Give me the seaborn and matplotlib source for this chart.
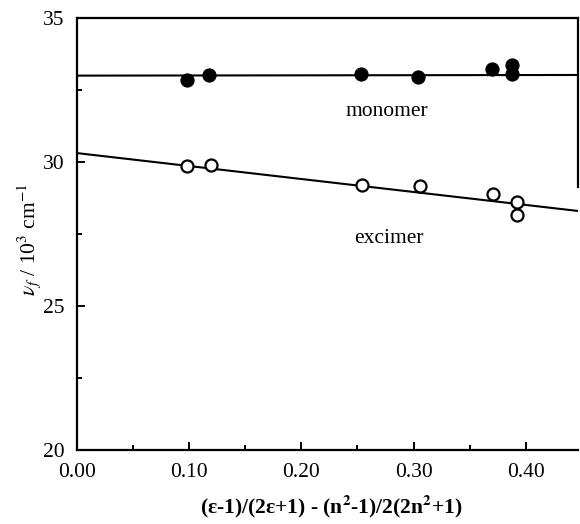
"""
Solvatochromic shift of monomer and excimer fluorescence vs. solvent polarity function.
"""

import numpy as np
import pandas as pd
import matplotlib
matplotlib.use("Agg")
import matplotlib.pyplot as plt
import seaborn as sns
from matplotlib.ticker import MultipleLocator, FormatStrFormatter

# Data
monomer_x = [0.098, 0.118, 0.253, 0.304, 0.370, 0.388, 0.388]
monomer_y = [32.85, 33.02, 33.06, 32.95, 33.23, 33.37, 33.06]

excimer_x = [0.098, 0.119, 0.254, 0.306, 0.371, 0.392, 0.392]
excimer_y = [29.86, 29.90, 29.20, 29.17, 28.89, 28.61, 28.16]

# Linear fits (intercept, slope)
monomer_fit = [33.0, 0.05]
excimer_fit = [30.31, -4.50]

x_max = 0.4467

sns.set_theme(style="ticks", rc={'text.color': 'black', 'axes.labelcolor': 'black',
                                 'xtick.color': 'black', 'ytick.color': 'black',
                                 'axes.edgecolor': 'black'})
plt.rcParams['font.family'] = ['Liberation Serif', 'DejaVu Serif']
plt.rcParams['mathtext.fontset'] = 'stix'

fig = plt.figure(figsize=(5.8, 5.24), dpi=100)
ax = fig.add_axes([0.1328, 0.1412, 0.864, 0.8244])

# Fit lines
fit_x = np.array([0.0, x_max])
lines = pd.DataFrame({
    'x': np.concatenate([fit_x, fit_x]),
    'y': np.concatenate([monomer_fit[0] + monomer_fit[1] * fit_x,
                         excimer_fit[0] + excimer_fit[1] * fit_x]),
    'series': ['monomer'] * 2 + ['excimer'] * 2,
})
sns.lineplot(data=lines, x='x', y='y', units='series', estimator=None,
             color='black', linewidth=1.5, ax=ax, legend=False)

# Points
df_mono = pd.DataFrame({'x': monomer_x, 'y': monomer_y})
df_exc = pd.DataFrame({'x': excimer_x, 'y': excimer_y})
sns.scatterplot(data=df_mono, x='x', y='y', s=90, color='black',
                edgecolor='black', ax=ax, zorder=3, legend=False)
sns.scatterplot(data=df_exc, x='x', y='y', s=75, facecolor='white',
                edgecolor='black', linewidth=1.6, ax=ax, zorder=3, legend=False)

ax.text(0.276, 31.75, 'monomer', fontsize=15.5, ha='center', va='center')
ax.text(0.278, 27.35, 'excimer', fontsize=15.5, ha='center', va='center')

ax.set_xlim(0, x_max)
ax.set_ylim(20, 35)
ax.xaxis.set_major_locator(MultipleLocator(0.1))
ax.xaxis.set_minor_locator(MultipleLocator(0.05))
ax.xaxis.set_major_formatter(FormatStrFormatter('%.2f'))
ax.yaxis.set_major_locator(MultipleLocator(5))
ax.yaxis.set_minor_locator(MultipleLocator(2.5))

ax.tick_params(which='both', direction='in', width=1.4, labelsize=15.5,
               bottom=True, left=True, top=False, right=False)
ax.tick_params(which='major', length=6)
ax.tick_params(which='minor', length=3.5)
ax.tick_params(axis='x', pad=9)
ax.tick_params(axis='y', pad=9)

for side in ['left', 'bottom', 'top', 'right']:
    ax.spines[side].set_linewidth(1.6)
ax.spines['right'].set_bounds(29.13, 35)

ax.set_xlabel(r'(ε-1)/(2ε+1) - (n$^{\mathbf{2}}$-1)/2(2n$^{\mathbf{2}}$+1)',
              fontsize=15.5, fontweight='bold')
ax.xaxis.set_label_coords(0.507, -0.1)
ax.set_ylabel(r'$\nu_f$ / 10$^3$ cm$^{-1}$', fontsize=15.5)
ax.yaxis.set_label_coords(-0.068, 0.486)

fig.savefig('out.png', dpi=100)
